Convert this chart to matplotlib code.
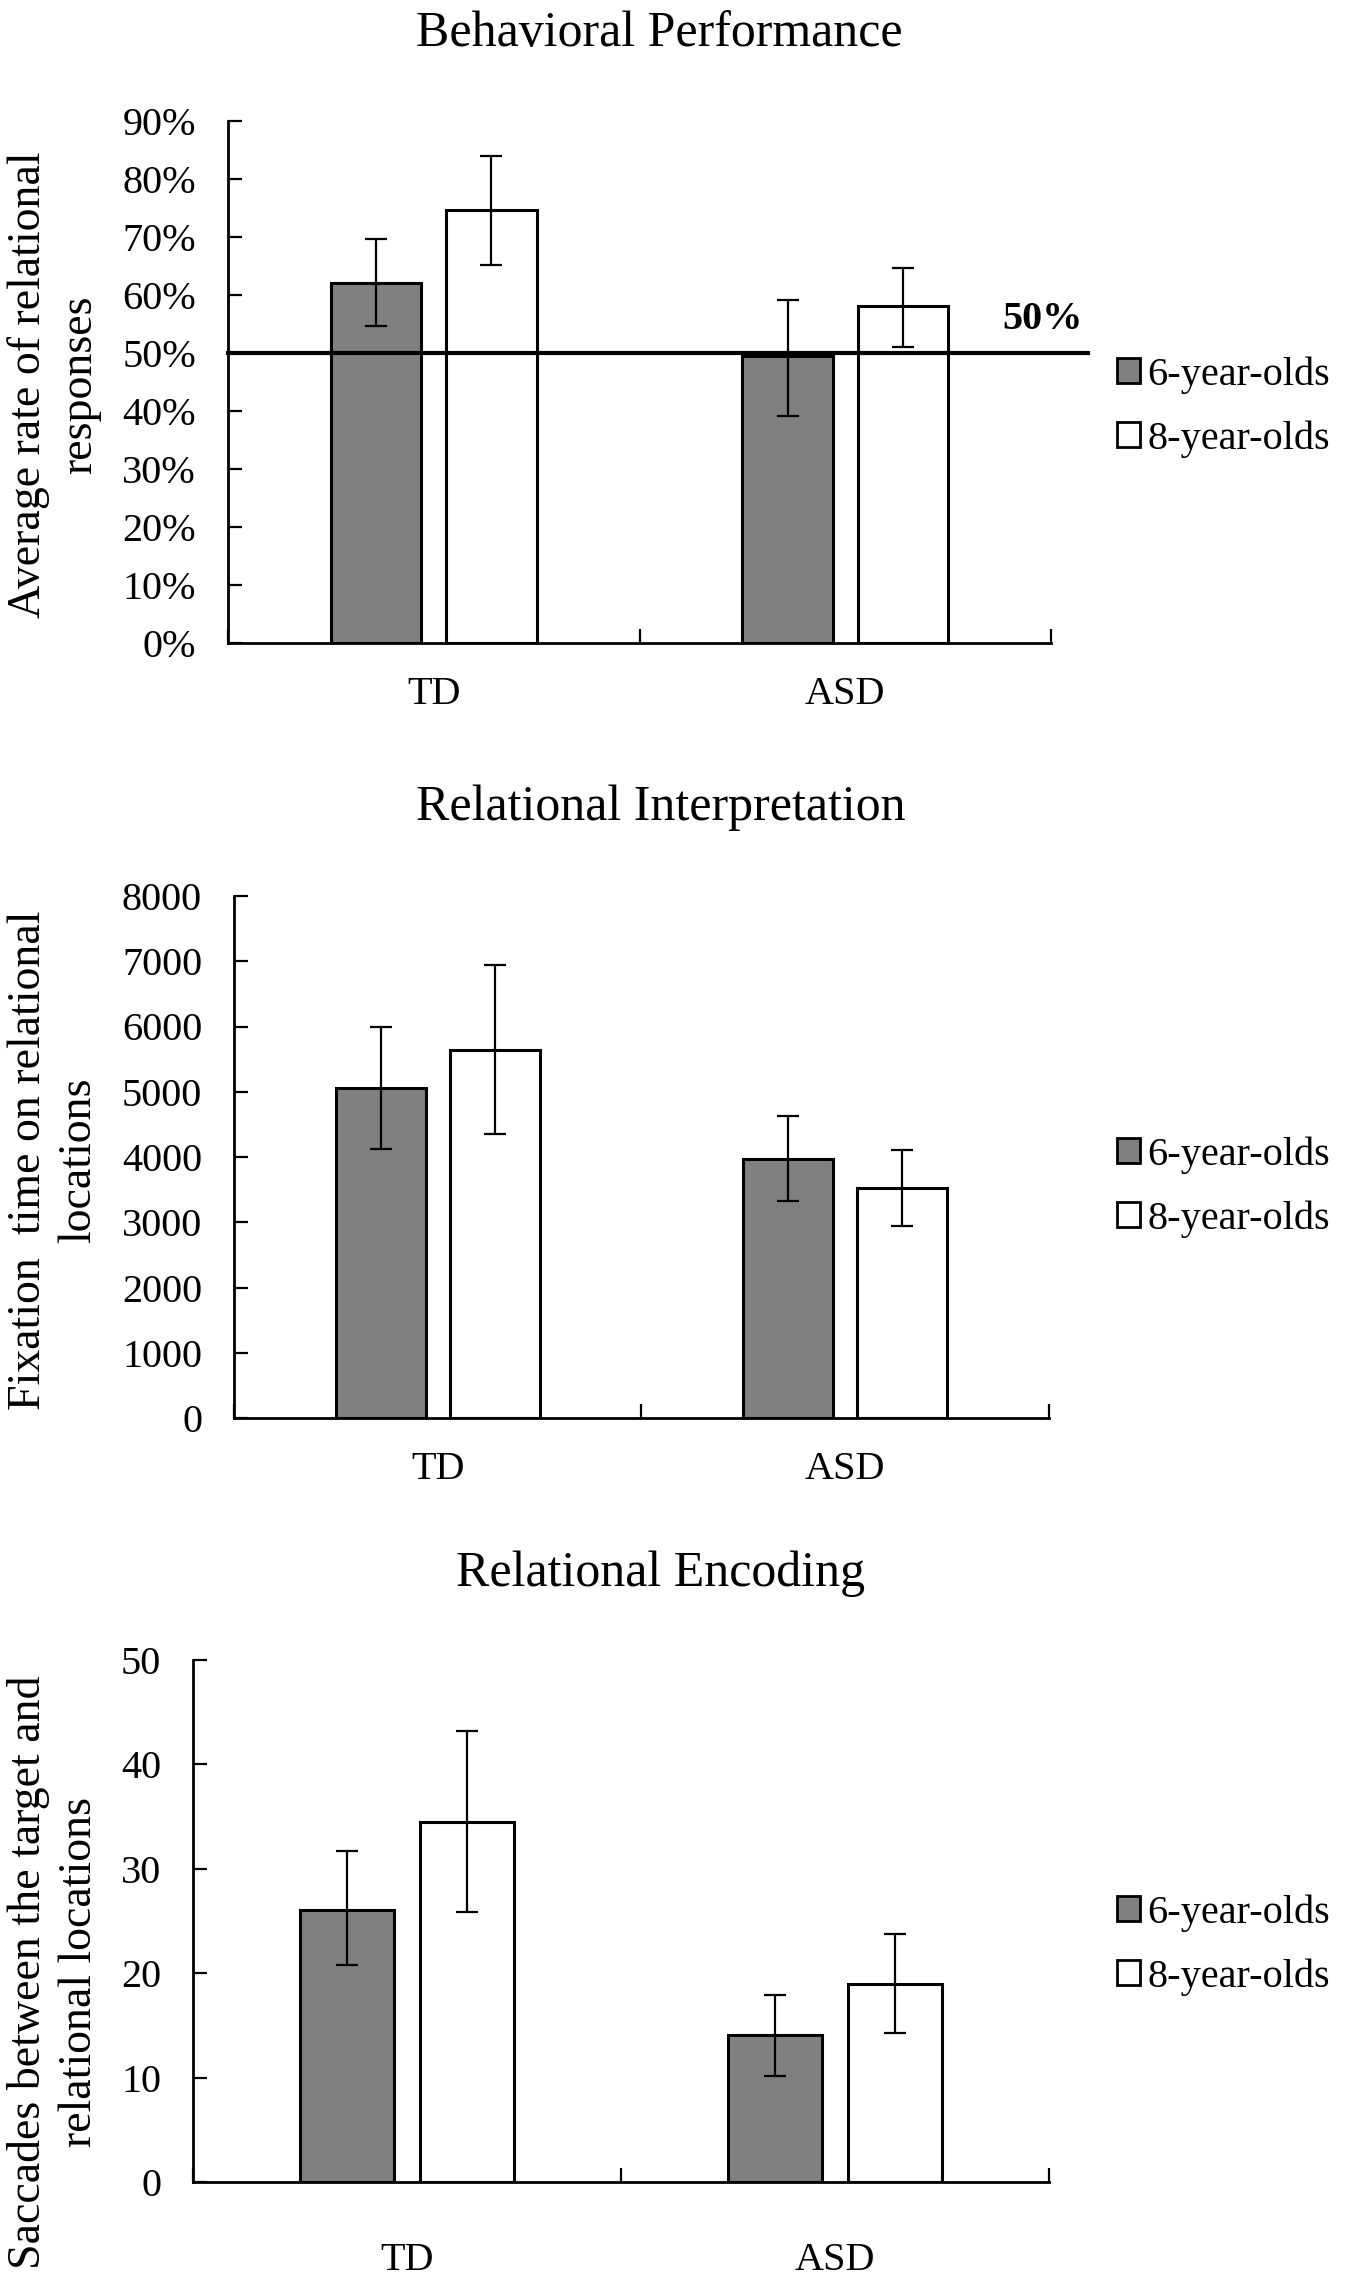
import matplotlib
matplotlib.use("Agg")
import matplotlib.pyplot as plt
from matplotlib.patches import Patch
from matplotlib.ticker import FuncFormatter, FixedLocator
import numpy as np

plt.rcParams['font.family'] = ['Liberation Serif', 'DejaVu Serif']

# ---------------- data ----------------
categories = ["TD", "ASD"]
series_names = ["6-year-olds", "8-year-olds"]

# Panel 1: Behavioral Performance (proportion)
perf_6 = [0.620, 0.494]
perf_6_hi = [0.697, 0.592]
perf_6_lo = [0.546, 0.391]
perf_8 = [0.747, 0.581]
perf_8_hi = [0.839, 0.647]
perf_8_lo = [0.651, 0.510]
chance_level = 0.50
chance_label = "50%"

# Panel 2: Relational Interpretation (ms)
fix_6 = [5065, 3970]
fix_6_hi = [5985, 4625]
fix_6_lo = [4130, 3320]
fix_8 = [5645, 3530]
fix_8_hi = [6940, 4105]
fix_8_lo = [4345, 2940]

# Panel 3: Relational Encoding (count)
sac_6 = [26.1, 14.1]
sac_6_hi = [31.7, 17.9]
sac_6_lo = [20.8, 10.2]
sac_8 = [34.5, 19.0]
sac_8_hi = [43.2, 23.8]
sac_8_lo = [25.9, 14.3]

titles = ["Behavioral Performance", "Relational Interpretation", "Relational Encoding"]
ylabels = ["Average rate of relational\nresponses",
           "Fixation  time on relational\nlocations",
           "Saccades between the target and\nrelational locations"]
yticks_1 = [0.0, 0.1, 0.2, 0.3, 0.4, 0.5, 0.6, 0.7, 0.8, 0.9]
yticks_2 = [0, 1000, 2000, 3000, 4000, 5000, 6000, 7000, 8000]
yticks_3 = [0, 10, 20, 30, 40, 50]

# ---------------- layout ----------------
W, H = 1346, 2282
fig = plt.figure(figsize=(W / 100, H / 100), dpi=100)

GRAY = "#808080"
TICK_FS = 29
LEG_FS = 29
TITLE_FS = 36
YLAB_FS = 33


def add_ax(left, right, top, bottom):
    return fig.add_axes([left / W, 1 - bottom / H, (right - left) / W, (bottom - top) / H])


def draw_panel(ax, v6, v6hi, v6lo, v8, v8hi, v8lo, yticks, fmt, xpad=24):
    x = np.arange(len(categories))
    off, bw = 0.14, 0.22
    v6, v8 = np.array(v6), np.array(v8)
    e6 = [v6 - np.array(v6lo), np.array(v6hi) - v6]
    e8 = [v8 - np.array(v8lo), np.array(v8hi) - v8]
    ax.bar(x - off, v6, bw, color=GRAY, edgecolor="black", linewidth=2.2, zorder=2)
    ax.bar(x + off, v8, bw, color="white", edgecolor="black", linewidth=2.2, zorder=2)
    ax.errorbar(x - off, v6, yerr=e6, fmt="none", ecolor="black", elinewidth=1.6,
                capsize=8, capthick=1.6, zorder=3)
    ax.errorbar(x + off, v8, yerr=e8, fmt="none", ecolor="black", elinewidth=1.6,
                capsize=8, capthick=1.6, zorder=3)
    ax.set_xlim(-0.5, 1.5)
    ax.set_ylim(yticks[0], yticks[-1])
    ax.set_yticks(yticks)
    ax.yaxis.set_major_formatter(FuncFormatter(fmt))
    ax.set_xticks(x)
    ax.set_xticklabels(categories)
    ax.xaxis.set_minor_locator(FixedLocator([-0.5, 0.5, 1.5]))
    ax.tick_params(axis="x", which="major", length=0, pad=xpad, labelsize=TICK_FS)
    ax.tick_params(axis="x", which="minor", direction="in", length=10, width=1.6)
    ax.tick_params(axis="y", which="major", direction="in", length=10, width=1.6,
                   pad=23, labelsize=TICK_FS)
    for s in ["top", "right"]:
        ax.spines[s].set_visible(False)
    for s in ["left", "bottom"]:
        ax.spines[s].set_linewidth(2.0)
        ax.spines[s].set_zorder(4)


def add_legend(yc):
    handles = [Patch(facecolor=GRAY, edgecolor="black", linewidth=2.0),
               Patch(facecolor="white", edgecolor="black", linewidth=2.0)]
    fig.legend(handles, series_names, loc="center left",
               bbox_to_anchor=(1117 / W, 1 - yc / H), frameon=False,
               fontsize=LEG_FS, handlelength=0.56, handleheight=0.56,
               handletextpad=0.2, labelspacing=0.66, borderpad=0, borderaxespad=0)


pct = lambda v, p: f"{v * 100:.0f}%"
num = lambda v, p: f"{v:.0f}"

# Panel 1
ax1 = add_ax(228, 1051, 121, 643)
draw_panel(ax1, perf_6, perf_6_hi, perf_6_lo, perf_8, perf_8_hi, perf_8_lo, yticks_1, pct)
ax1.plot([-0.5, 1.59], [chance_level, chance_level], color="black", linewidth=3.0,
         clip_on=False, zorder=5)
ax1.text(1.48, chance_level + 0.058, chance_label, ha="center", va="center",
         fontsize=29, fontweight="bold")
fig.text(659 / W, 1 - 34 / H, titles[0], ha="center", va="center", fontsize=TITLE_FS)
fig.text(54 / W, 1 - 385 / H, ylabels[0], ha="center", va="center", rotation=90,
         fontsize=YLAB_FS, linespacing=1.25, multialignment="center")
add_legend(407)

# Panel 2
ax2 = add_ax(234, 1049, 896, 1418)
draw_panel(ax2, fix_6, fix_6_hi, fix_6_lo, fix_8, fix_8_hi, fix_8_lo, yticks_2, num)
fig.text(661 / W, 1 - 808 / H, titles[1], ha="center", va="center", fontsize=TITLE_FS)
fig.text(54 / W, 1 - 1160 / H, ylabels[1], ha="center", va="center", rotation=90,
         fontsize=YLAB_FS, linespacing=1.25, multialignment="center")
add_legend(1187)

# Panel 3
ax3 = add_ax(193, 1049, 1660, 2182)
draw_panel(ax3, sac_6, sac_6_hi, sac_6_lo, sac_8, sac_8_hi, sac_8_lo, yticks_3, num,
           xpad=43)
fig.text(661 / W, 1 - 1574 / H, titles[2], ha="center", va="center", fontsize=TITLE_FS)
fig.text(54 / W, 1 - 1972 / H, ylabels[2], ha="center", va="center", rotation=90,
         fontsize=YLAB_FS, linespacing=1.25, multialignment="center")
add_legend(1945)

fig.savefig("out.png", dpi=100, facecolor="white")
